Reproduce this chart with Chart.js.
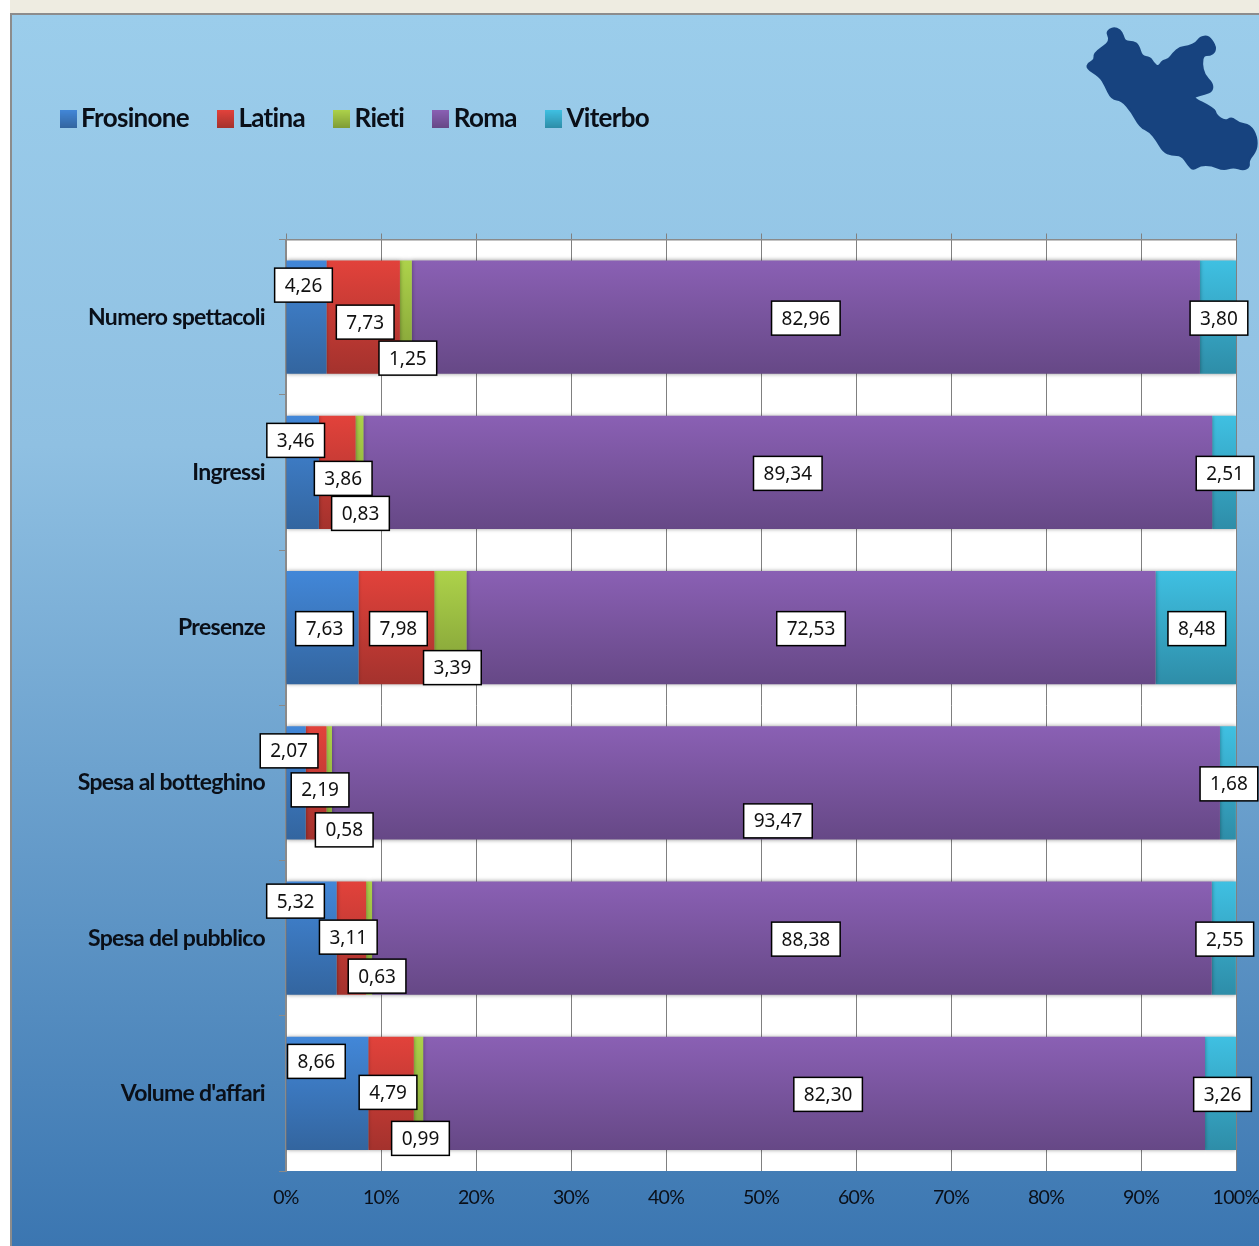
<!DOCTYPE html>
<html><head><meta charset="utf-8">
<style>html,body{margin:0;padding:0;background:#fff}canvas{display:block}</style>
<script src="https://cdn.jsdelivr.net/npm/chart.js@4"></script>
</head><body>
<canvas id="c" width="1259" height="1246"></canvas>
<script>
const categories=['Numero spettacoli','Ingressi','Presenze','Spesa al botteghino','Spesa del pubblico',"Volume d'affari"];
const seriesNames=['Frosinone','Latina','Rieti','Roma','Viterbo'];
const frosinone=[4.26,3.46,7.63,2.07,5.32,8.66];
const latina=[7.73,3.86,7.98,2.19,3.11,4.79];
const rieti=[1.25,0.83,3.39,0.58,0.63,0.99];
const roma=[82.96,89.34,72.53,93.47,88.38,82.30];
const viterbo=[3.80,2.51,8.48,1.68,2.55,3.26];
const xTicks=[0,10,20,30,40,50,60,70,80,90,100];

// label nudges relative to each segment's centre: series -> row
const labelDx=[[-3,-7,2,-7,-16,-11],[2,6,2,4,-3,-3],[2,1,2,15,8,2],[0,0,0,2,14,14],[1,1,1,1,1,2]];
const labelDy=[[-32,-32,1,-32,-37,-32],[5,6,1,7,-1,-1],[41,41,40,47,38,45],[1,1,1,38,1,1],[1,1,1,1,1,1]];

const gradients=[['#4287d8','#33659f'],['#e2423b','#a4322d'],['#adD24a','#7f9c36'],['#8a60b4','#664886'],['#3fc0e2','#2e8da8']];
const inkColor='#0a0f18';

function swatch(i){
  const s=document.createElement('canvas');s.width=17;s.height=18;
  const g=s.getContext('2d');const lg=g.createLinearGradient(0,0,0,18);
  lg.addColorStop(0,gradients[i][0]);lg.addColorStop(1,gradients[i][1]);
  g.fillStyle=lg;g.fillRect(0,0,17,18);return s;
}
const mapOutline=[[170,95],[190,82],[210,90],[218,105],[225,125],[250,125],[265,135],[275,170],[300,172],[310,190],[325,202],[338,182],[355,180],[370,160],[390,142],[415,140],[440,128],[450,112],[475,108],[495,135],[495,155],[480,165],[460,165],[455,190],[462,225],[487,250],[487,272],[465,282],[430,290],[440,300],[470,315],[495,330],[497,345],[525,365],[545,352],[565,370],[600,375],[620,410],[620,450],[595,480],[598,500],[580,510],[550,500],[520,510],[485,495],[450,495],[430,510],[415,495],[395,465],[365,465],[340,455],[320,420],[300,395],[270,380],[245,335],[215,300],[185,297],[165,255],[150,230],[110,205],[115,190],[135,180],[132,160],[175,130],[178,112]];

const tightText={id:'tightText',
  beforeUpdate(chart){chart.ctx.letterSpacing='-0.7px';},
  beforeRender(chart){chart.ctx.letterSpacing='-0.7px';}
};
const backdrop={id:'backdrop',beforeDraw(chart){
  const c=chart.ctx,W=chart.width,H=chart.height,a=chart.chartArea;
  c.save();
  c.fillStyle='#fff';c.fillRect(0,0,W,H);
  c.fillStyle='#eeece1';c.fillRect(10,0,W-10,14);
  const g=c.createLinearGradient(0,14,0,H);
  g.addColorStop(0,'#9bcdeb');g.addColorStop(0.35,'#8fc0e2');g.addColorStop(1,'#3b76b1');
  c.fillStyle=g;c.fillRect(11,14,W-11,H-14);
  c.fillStyle='#8c8c8c';c.fillRect(10,13,W-10,2);c.fillRect(10,13,2,H-13);
  c.fillStyle='#fff';c.fillRect(a.left,a.top,a.right-a.left,a.bottom-a.top);
  // region silhouette, rounded through the midpoints of its outline
  const pts=mapOutline.map(p=>[1050+p[0]/3,p[1]/3]),n=pts.length;
  c.fillStyle='#17437f';c.strokeStyle='#17437f';c.lineWidth=2;c.lineJoin='round';
  c.beginPath();
  c.moveTo((pts[n-1][0]+pts[0][0])/2,(pts[n-1][1]+pts[0][1])/2);
  pts.forEach((p,i)=>{const q=pts[(i+1)%n];c.quadraticCurveTo(p[0],p[1],(p[0]+q[0])/2,(p[1]+q[1])/2);});
  c.closePath();c.fill();c.stroke();
  c.restore();
}};
const barShadow={id:'barShadow',
  beforeDatasetDraw(chart){const c=chart.ctx;c.save();c.shadowColor='rgba(0,0,0,0.4)';c.shadowBlur=4;c.shadowOffsetY=0;},
  afterDatasetDraw(chart){chart.ctx.restore();}
};
const valueBoxes={id:'valueBoxes',afterDatasetsDraw(chart){
  const c=chart.ctx;c.save();
  c.letterSpacing='0px';
  c.font='19px "Noto Sans",sans-serif';c.textAlign='center';c.textBaseline='middle';
  chart.data.datasets.forEach((ds,si)=>{
    chart.getDatasetMeta(si).data.forEach((el,ri)=>{
      const p=el.getProps(['x','y','base'],true);
      const cx=(p.x+p.base)/2+labelDx[si][ri],cy=p.y+labelDy[si][ri];
      const t=ds.data[ri].toFixed(2).replace('.',',');
      const w=c.measureText(t).width+20,h=34;
      c.fillStyle='#fff';c.strokeStyle='#000';c.lineWidth=1.5;
      c.fillRect(cx-w/2,cy-h/2,w,h);c.strokeRect(cx-w/2,cy-h/2,w,h);
      c.fillStyle='#111';c.fillText(t,cx,cy+1);
    });
  });
  c.restore();
}};

function barFill(si){
  return ctx=>{
    const ch=ctx.chart,y=ch.scales.y;
    if(!y||ctx.dataIndex===undefined)return gradients[si][0];
    const mid=y.getPixelForValue(ctx.dataIndex),half=y.getPixelForValue(1)-y.getPixelForValue(0);
    const g=ch.ctx.createLinearGradient(0,mid-half*0.365,0,mid+half*0.365);
    g.addColorStop(0,gradients[si][0]);g.addColorStop(1,gradients[si][1]);
    return g;
  };
}
const allSeries=[frosinone,latina,rieti,roma,viterbo];
new Chart(document.getElementById('c'),{
  type:'bar',
  data:{labels:categories,datasets:allSeries.map((d,i)=>({
    label:seriesNames[i],data:d,backgroundColor:barFill(i),borderWidth:0,
    barPercentage:0.73,categoryPercentage:1
  }))},
  plugins:[tightText,backdrop,barShadow,valueBoxes],
  options:{
    indexAxis:'y',responsive:false,animation:false,
    layout:{padding:{left:31.5,right:23,top:69.5,bottom:0}},
    plugins:{
      tooltip:{enabled:false},
      legend:{position:'top',align:'start',labels:{
        usePointStyle:true,pointStyleWidth:0.1,padding:36.5,color:inkColor,
        font:{family:'Lato',size:26,weight:'bold'},
        generateLabels(){return seriesNames.map((n,i)=>({text:n,pointStyle:swatch(i),datasetIndex:i,fontColor:inkColor,lineWidth:0}));}
      }}
    },
    scales:{
      x:{type:'linear',stacked:true,min:0,max:100,position:'bottom',
        afterBuildTicks(s){s.ticks=xTicks.map(v=>({value:v}));},
        afterFit(s){s.height=75;s.paddingRight=0;s.paddingLeft=0;},
        border:{display:false},
        grid:{color:'#808080',lineWidth:1,drawTicks:false},
        ticks:{padding:15,maxRotation:0,color:inkColor,font:{family:'Lato',size:19.5},callback:v=>v+'%'}},
      xTop:{type:'linear',axis:'x',min:0,max:100,position:'top',
        afterBuildTicks(s){s.ticks=xTicks.map(v=>({value:v}));},
        afterFit(s){s.height=97.5;s.paddingRight=0;s.paddingLeft=0;},
        border:{display:true,color:'#8a8a8a',width:1.5},
        grid:{color:'#808080',lineWidth:1,drawOnChartArea:false,drawTicks:true,tickLength:6},
        ticks:{display:false}},
      y:{stacked:true,position:'left',
        afterFit(s){s.width=254.5;},
        border:{display:true,color:'#8a8a8a',width:2},
        grid:{offset:true,color:'#8a8a8a',drawOnChartArea:false,drawTicks:true,tickLength:7},
        ticks:{padding:14,color:inkColor,font:{family:'Lato',size:23,weight:'bold'}}}
    }
  }
});
</script>
</body></html>
